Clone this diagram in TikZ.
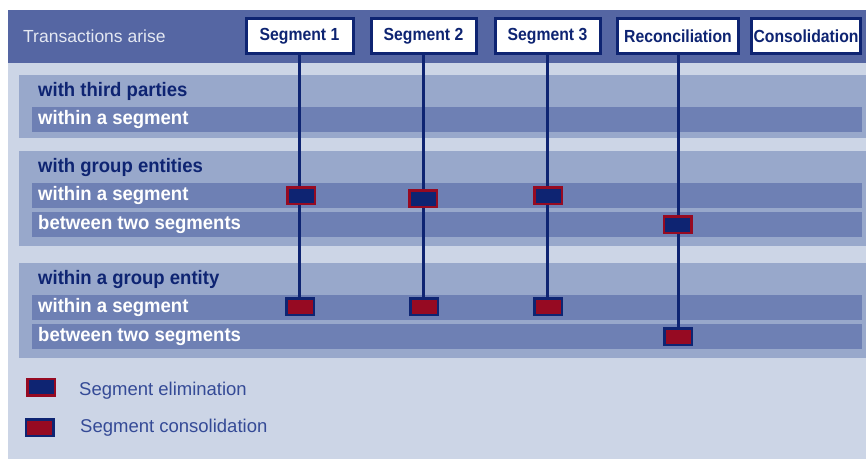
\documentclass[tikz,border=0pt]{standalone}
\usepackage{fontspec}
\setmainfont{Liberation Sans}
\newfontfamily\rowfont{Liberation Sans}[FakeStretch=0.95]
\newfontfamily\boxfont{Liberation Sans}[FakeStretch=0.9]
\definecolor{hdr}{RGB}{85,102,163}
\definecolor{bglight}{RGB}{204,213,230}
\definecolor{grp}{RGB}{152,168,203}
\definecolor{rowc}{RGB}{110,128,180}
\definecolor{navy}{RGB}{14,36,114}
\definecolor{darkred}{RGB}{150,10,34}
\definecolor{hdrtext}{RGB}{228,232,242}
\definecolor{legtext}{RGB}{52,74,150}
\tikzset{
  colbox/.style={draw=navy, line width=3pt, fill=white, inner sep=0pt,
    minimum height=35pt, text=navy, font=\boxfont\bfseries\fontsize{17.5}{17.5}\selectfont},
  rowtext/.style={anchor=base west, inner sep=0pt, text=white,
    font=\rowfont\bfseries\fontsize{19.5}{19.5}\selectfont},
  grptext/.style={anchor=base west, inner sep=0pt, text=navy,
    font=\rowfont\bfseries\fontsize{19.5}{19.5}\selectfont},
  elim/.style={draw=darkred, fill=navy, line width=2.5pt, inner sep=0pt,
    minimum width=27.5pt, minimum height=16.5pt},
  cons/.style={draw=navy, fill=darkred, line width=2.5pt, inner sep=0pt,
    minimum width=27.5pt, minimum height=16.5pt},
  vline/.style={draw=navy, line width=3pt},
  legtxt/.style={anchor=base west, inner sep=0pt, text=legtext,
    font=\fontsize{18.5}{18.5}\selectfont}
}
\begin{document}
\begin{tikzpicture}[x=1pt,y=-1pt]
\useasboundingbox (0,0) rectangle (866,459);
\fill[white] (0,0) rectangle (866,459);
\fill[bglight] (8,63) rectangle (866,459);
\fill[hdr] (8,10) rectangle (866,63);
% group panels
\fill[grp] (19,75) rectangle (866,138);
\fill[grp] (19,151) rectangle (866,246);
\fill[grp] (19,263) rectangle (866,358);
% rows
\fill[rowc] (32,107) rectangle (862,132);
\fill[rowc] (32,183) rectangle (862,208);
\fill[rowc] (32,212) rectangle (862,237);
\fill[rowc] (32,295) rectangle (862,320);
\fill[rowc] (32,324) rectangle (862,349);
% header
\node[anchor=base west, inner sep=0pt, text=hdrtext, font=\fontsize{17.5}{17.5}\selectfont] (title) at (23,42) {Transactions arise};
\node[colbox, minimum width=107pt] (s1) at (299.5,36) {Segment 1};
\node[colbox, minimum width=105pt] (s2) at (423.5,36) {Segment 2};
\node[colbox, minimum width=105pt] (s3) at (547.5,36) {Segment 3};
\node[colbox, minimum width=121pt] (rec) at (678,36) {Reconciliation};
\node[colbox, minimum width=109pt] (con) at (806,36) {Consolidation};
% row texts
\node[grptext] (g1) at (38,96) {with third parties};
\node[rowtext] (r1) at (38,124.5) {within a segment};
\node[grptext] (g2) at (38,172.5) {with group entities};
\node[rowtext] (r2) at (38,200.5) {within a segment};
\node[rowtext] (r3) at (38,229.5) {between two segments};
\node[grptext] (g3) at (38,284.5) {within a group entity};
\node[rowtext] (r4) at (38,312.5) {within a segment};
\node[rowtext] (r5) at (38,341.5) {between two segments};
% markers
\node[cons] (c1) at (300,306.5) {};
\node[cons] (c2) at (424,306.5) {};
\node[cons] (c3) at (548,306.5) {};
\node[cons] (c4) at (678,336.5) {};
\draw[vline] (s1.south) -- (s1.south |- c1.north);
\draw[vline] (s2.south) -- (s2.south |- c2.north);
\draw[vline] (s3.south) -- (s3.south |- c3.north);
\draw[vline] (rec.south) -- (c4.north);
\node[elim] (e1) at (301,195.5) {};
\node[elim] (e2) at (423,198.5) {};
\node[elim] (e3) at (548,195.5) {};
\node[elim] (e4) at (677.5,224.5) {};
% legend
\node[elim] (le) at (41,387) {};
\node[legtxt] (lte) at (79,395.5) {Segment elimination};
\node[cons] (lc) at (39.5,427.5) {};
\node[legtxt] (ltc) at (80,432.5) {Segment consolidation};
\end{tikzpicture}
\end{document}
